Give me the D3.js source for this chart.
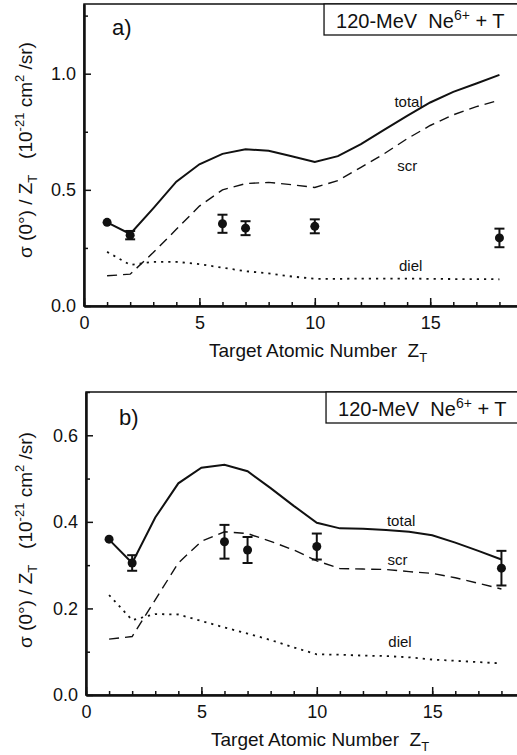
<!DOCTYPE html>
<html>
<head>
<meta charset="utf-8">
<script src="https://cdn.jsdelivr.net/npm/d3@7"></script>
<style>
  html, body { margin: 0; padding: 0; background: #fff; }
  svg { display: block; font-family: "Liberation Sans", Arial, sans-serif; }
  text { white-space: pre; fill: #111; }
</style>
</head>
<body>
<svg id="viz" width="517" height="755"></svg>
<script>
const WIDTH = 517
const HEIGHT = 755
const INK = '#111'

// theory curves, evaluated at each target Z
const Z_THEORY = [1, 2, 3, 4, 5, 6, 7, 8, 9, 10, 11, 12, 13, 14, 15, 16, 17, 18]

const TOTAL_A = [0.36, 0.31, 0.42, 0.535, 0.61, 0.655, 0.675, 0.668, 0.645, 0.62, 0.645, 0.697, 0.758, 0.818, 0.876, 0.922, 0.958, 0.995]
const SCR_A   = [0.13, 0.137, 0.23, 0.33, 0.43, 0.50, 0.527, 0.532, 0.522, 0.51, 0.54, 0.597, 0.655, 0.72, 0.777, 0.823, 0.858, 0.886]
const DIEL_A  = [0.233, 0.177, 0.19, 0.19, 0.18, 0.165, 0.15, 0.14, 0.127, 0.117, 0.117, 0.118, 0.118, 0.118, 0.117, 0.116, 0.116, 0.115]

const TOTAL_B = [0.359, 0.305, 0.41, 0.489, 0.525, 0.532, 0.517, 0.478, 0.437, 0.398, 0.385, 0.384, 0.381, 0.377, 0.369, 0.352, 0.333, 0.313]
const SCR_B   = [0.129, 0.135, 0.22, 0.305, 0.355, 0.377, 0.373, 0.355, 0.335, 0.31, 0.292, 0.291, 0.29, 0.285, 0.281, 0.271, 0.258, 0.245]
const DIEL_B  = [0.231, 0.173, 0.187, 0.186, 0.171, 0.156, 0.142, 0.127, 0.11, 0.094, 0.093, 0.091, 0.09, 0.087, 0.082, 0.079, 0.076, 0.073]

// measured points (same in both panels)
const Z_EXP   = [1, 2, 6, 7, 10, 18]
const VAL_EXP = [0.36, 0.305, 0.354, 0.335, 0.343, 0.293]
const ERR_EXP = [0, 0.018, 0.039, 0.03, 0.03, 0.04]

const X_TICKS = [0, 5, 10, 15]
const X_MINOR = d3.range(0, 19)
const Y_TICKS_A = [0.0, 0.5, 1.0]
const Y_MINOR_A = [0.25, 0.75, 1.25]
const Y_TICKS_B = [0.0, 0.2, 0.4, 0.6]
const Y_MINOR_B = [0.1, 0.3, 0.5, 0.7]

const svg = d3.select('#viz')

const panels = [
    {
        tag: 'a)', top: 4, bottom: 306, left: 84, ymax: 1.3,
        total: TOTAL_A, scr: SCR_A, diel: DIEL_A,
        yTicks: Y_TICKS_A, yMinor: Y_MINOR_A, yLabelCenter: 150,
        labels: [['total', 13.45, 0.857], ['scr', 13.57, 0.581], ['diel', 13.65, 0.152]],
        tagPos: [112, 35]
    },
    {
        tag: 'b)', top: 392, bottom: 695, left: 86, ymax: 0.7,
        total: TOTAL_B, scr: SCR_B, diel: DIEL_B,
        yTicks: Y_TICKS_B, yMinor: Y_MINOR_B, yLabelCenter: 540,
        labels: [['total', 13.04, 0.391], ['scr', 13.06, 0.300], ['diel', 13.1, 0.110]],
        tagPos: [119, 425]
    }
]

function drawPanel(p) {
    const x = d3.scaleLinear().domain([0, 19]).range([p.left, p.left + 19 * 23.08])
    const y = d3.scaleLinear().domain([0, p.ymax]).range([p.bottom, p.top])
    const g = svg.append('g')

    // frame (top and right edges; right one falls just off the page)
    g.append('rect')
        .attr('x', x(0)).attr('y', y(p.ymax))
        .attr('width', x(19) - x(0)).attr('height', y(0) - y(p.ymax))
        .attr('fill', 'none').attr('stroke', INK).attr('stroke-width', 1.5)

    g.append('g').attr('transform', `translate(0,${y(0)})`)
        .call(d3.axisBottom(x).tickValues(X_TICKS).tickSize(-8).tickSizeOuter(0).tickPadding(10).tickFormat(d3.format('d')))
    g.append('g').attr('transform', `translate(0,${y(0)})`)
        .call(d3.axisBottom(x).tickValues(X_MINOR).tickSize(-4).tickSizeOuter(0).tickFormat(''))

    g.append('g').attr('transform', `translate(${x(0)},0)`)
        .call(d3.axisLeft(y).tickValues(p.yTicks).tickSize(-7).tickSizeOuter(0).tickPadding(8).tickFormat(d3.format('.1f')))
    g.append('g').attr('transform', `translate(${x(0)},0)`)
        .call(d3.axisLeft(y).tickValues(p.yMinor).tickSize(-4).tickSizeOuter(0).tickFormat(''))

    g.selectAll('.domain').attr('stroke', INK).attr('stroke-width', 2)
    g.selectAll('.tick line').attr('stroke', INK).attr('stroke-width', 1.5)
    g.selectAll('.tick text').attr('fill', INK).style('font-size', '18px').style('font-family', 'inherit')

    // theory curves
    const line = d3.line().x((d, i) => x(Z_THEORY[i])).y(d => y(d))
    g.append('path').attr('d', line(p.diel))
        .attr('fill', 'none').attr('stroke', INK).attr('stroke-width', 1.8).attr('stroke-dasharray', '2.2,5')
    g.append('path').attr('d', line(p.scr))
        .attr('fill', 'none').attr('stroke', INK).attr('stroke-width', 1.4).attr('stroke-dasharray', '10,6')
    g.append('path').attr('d', line(p.total))
        .attr('fill', 'none').attr('stroke', INK).attr('stroke-width', 2)

    // curve labels
    g.selectAll('.clabel').data(p.labels).enter().append('text')
        .attr('x', d => x(d[1])).attr('y', d => y(d[2]))
        .style('font-size', '15px')
        .text(d => d[0])

    // measured points with error bars
    const pts = Z_EXP.map((z, i) => ({ z, v: VAL_EXP[i], e: ERR_EXP[i] }))
    const bars = pts.filter(d => d.e > 0)
    g.selectAll('.err').data(bars).enter().append('line')
        .attr('x1', d => x(d.z)).attr('x2', d => x(d.z))
        .attr('y1', d => y(d.v - d.e)).attr('y2', d => y(d.v + d.e))
        .attr('stroke', INK).attr('stroke-width', 2)
    for (const s of [-1, 1]) {
        g.selectAll(null).data(bars).enter().append('line')
            .attr('x1', d => x(d.z) - 5).attr('x2', d => x(d.z) + 5)
            .attr('y1', d => y(d.v + s * d.e)).attr('y2', d => y(d.v + s * d.e))
            .attr('stroke', INK).attr('stroke-width', 2)
    }
    g.selectAll('.pt').data(pts).enter().append('circle')
        .attr('cx', d => x(d.z)).attr('cy', d => y(d.v)).attr('r', 4.5)
        .attr('fill', INK)

    // legend box in upper right corner
    const bx = x(10.4)
    g.append('rect')
        .attr('x', bx).attr('y', y(p.ymax))
        .attr('width', 300).attr('height', 31)
        .attr('fill', '#fff').attr('stroke', INK).attr('stroke-width', 1.3)
    const lt = g.append('text').attr('x', bx + 12).attr('y', y(p.ymax) + 24).style('font-size', '20px')
    lt.append('tspan').text('120-MeV  Ne')
    lt.append('tspan').attr('dy', -8).style('font-size', '14px').text('6+')
    lt.append('tspan').attr('dy', 8).text(' + T')

    // panel tag
    g.append('text').attr('x', p.tagPos[0]).attr('y', p.tagPos[1]).style('font-size', '22px').text(p.tag)

    // x title
    const xt = g.append('text').attr('x', x(0) + 125).attr('y', y(0) + 51).style('font-size', '19px')
    xt.append('tspan').text('Target Atomic Number  Z')
    xt.append('tspan').attr('dy', 5).style('font-size', '13px').text('T')

    // y title
    const yt = g.append('text')
        .attr('transform', `translate(32,${p.yLabelCenter}) rotate(-90)`)
        .attr('text-anchor', 'middle').style('font-size', '19px')
    yt.append('tspan').text('σ (0°) / Z')
    yt.append('tspan').attr('dy', 5).style('font-size', '13px').text('T')
    yt.append('tspan').attr('dy', -5).text('   (10')
    yt.append('tspan').attr('dy', -8).style('font-size', '13px').text('-21')
    yt.append('tspan').attr('dy', 8).text(' cm')
    yt.append('tspan').attr('dy', -8).style('font-size', '13px').text('2')
    yt.append('tspan').attr('dy', 8).text(' /sr)')
}

panels.forEach(drawPanel)
</script>
</body>
</html>
